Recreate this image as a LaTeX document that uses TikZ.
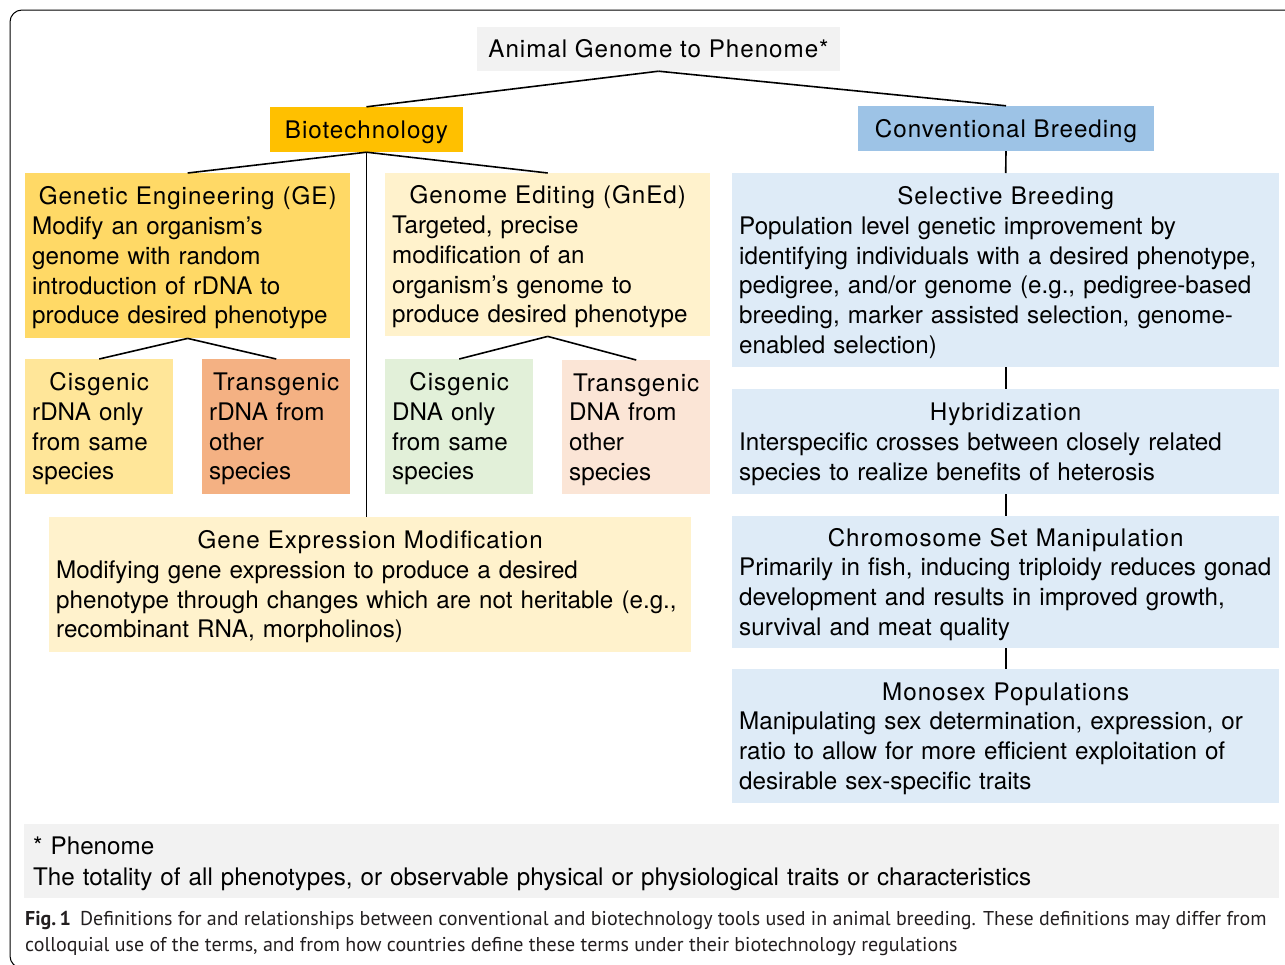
\documentclass[tikz,border=0pt]{standalone}
\usepackage{fontspec}
\setmainfont{TeX Gyre Heros}
\newfontfamily\capfont{PT Sans}
\usetikzlibrary{positioning}

\definecolor{greybox}{HTML}{F2F2F2}
\definecolor{biotech}{HTML}{FFC000}
\definecolor{convbr}{HTML}{9DC3E6}
\definecolor{gefill}{HTML}{FFD966}
\definecolor{palefill}{HTML}{FFF2CC}
\definecolor{cisrfill}{HTML}{FFE699}
\definecolor{transrfill}{HTML}{F4B183}
\definecolor{cisdfill}{HTML}{E2F0D9}
\definecolor{transdfill}{HTML}{FBE5D6}
\definecolor{bluefill}{HTML}{DEEBF7}
\definecolor{captext}{HTML}{231F20}

\newcommand\bodyfont{\fontsize{24.2}{29.75}\selectfont}
\newcommand\hd[1]{{\centering\rule{0pt}{22.5pt}\addfontfeature{LetterSpace=4}#1\par}}

\tikzset{
  box/.style={anchor=north west, inner xsep=7pt, inner ysep=0pt, align=left, font=\bodyfont},
  head/.style={inner sep=0pt, text height=17.4pt, text depth=0pt, font=\bodyfont\addfontfeature{LetterSpace=4}},
  link/.style={line width=1.6pt},
}

\begin{document}
\begin{tikzpicture}[x=1pt, y=-1pt]
\useasboundingbox (0,0) rectangle (1285,964);
\draw[line width=1pt, rounded corners=12pt] (10,10) rectangle (1300,968);

% top levels
\node[head, fill=greybox, minimum width=363pt, minimum height=44pt] (top) at (658.5,49) {Animal Genome to Phenome*};
\node[head, fill=biotech, minimum width=193pt, minimum height=45pt] (bio) at (366.5,129.5) {Biotechnology};
\node[head, fill=convbr, minimum width=296pt, minimum height=45pt] (conv) at (1006,128.5) {Conventional Breeding};

% biotechnology branch
\node[box, fill=gefill, text width=311pt, minimum height=165pt] (ge) at (25,173)
  {\hd{Genetic Engineering (GE)}Modify an organism's\\genome with random\\introduction of rDNA to\\produce desired phenotype};
\node[box, fill=palefill, text width=311pt, minimum height=163pt] (gned) at (385,173)
  {\hd{Genome Editing (GnEd)}Targeted, precise\\modification of an\\organism's genome to\\produce desired phenotype};
\node[box, fill=cisrfill, text width=134pt, minimum height=135pt] (cisr) at (25,359)
  {\hd{Cisgenic}rDNA only\\from same\\species};
\node[box, fill=transrfill, text width=134pt, minimum height=135pt] (transr) at (202,359)
  {\hd{Transgenic}rDNA from\\other\\species};
\node[box, fill=cisdfill, text width=134pt, minimum height=135pt] (cisd) at (385,359)
  {\hd{Cisgenic}DNA only\\from same\\species};
\node[box, fill=transdfill, text width=134pt, minimum height=134pt] (transd) at (562,360)
  {\hd{Transgenic}DNA from\\other\\species};
\node[box, fill=palefill, text width=628pt, minimum height=135pt] (gem) at (49,517)
  {\hd{Gene Expression Modification}Modifying gene expression to produce a desired\\phenotype through changes which are not heritable (e.g.,\\recombinant RNA, morpholinos)};

% conventional branch
\node[box, fill=bluefill, text width=533pt, minimum height=194pt] (sel) at (732,173)
  {\hd{Selective Breeding}Population level genetic improvement by\\identifying individuals with a desired phenotype,\\pedigree, and/or genome (e.g., pedigree-based\\breeding, marker assisted selection, genome-\\enabled selection)};
\node[box, fill=bluefill, text width=533pt, minimum height=105pt] (hyb) at (732,389)
  {\hd{Hybridization}Interspecific crosses between closely related\\species to realize benefits of heterosis};
\node[box, fill=bluefill, text width=533pt, minimum height=132pt] (chrom) at (732,516)
  {\hd{Chromosome Set Manipulation}Primarily in fish, inducing triploidy reduces gonad\\development and results in improved growth,\\survival and meat quality};
\node[box, fill=bluefill, text width=533pt, minimum height=134pt] (mono) at (732,669)
  {\hd{Monosex Populations}Manipulating sex determination, expression, or\\ratio to allow for more efficient exploitation of\\desirable sex-specific traits};

% footnote and caption
\node[box, fill=greybox, inner xsep=9pt, text width=1237pt, minimum height=74pt] (phen) at (24,824)
  {\rule{0pt}{22.5pt}* Phenome\\[1pt]The totality of all phenotypes, or observable physical or physiological traits or characteristics};
\node[anchor=north west, inner sep=0pt, align=left, text=captext, font=\capfont\fontsize{20}{26}\selectfont] (cap) at (25,911)
  {\textbf{Fig.\,1}\hspace{9pt}Definitions for and relationships between conventional and biotechnology tools used in animal breeding. These definitions may differ from\\colloquial use of the terms, and from how countries define these terms under their biotechnology regulations};

% connectors
\draw[link] (top.south) -- (bio.north);
\draw[link] (top.south) -- (conv.north);
\draw[link] (bio.south) -- (ge.north);
\draw[link] (bio.south) -- (gned.north);
\draw[link] (bio.south) -- (bio.south |- gem.north);
\draw[link] (ge.south) -- (cisr.north);
\draw[link] (ge.south) -- (transr.north);
\draw[link] (gned.south) -- (cisd.north);
\draw[link] (gned.south) -- (transd.north);
\draw[link] (conv.south) -- (sel.north);
\draw[link] (sel.south) -- (hyb.north);
\draw[link] (hyb.south) -- (chrom.north);
\draw[link] (chrom.south) -- (mono.north);
\end{tikzpicture}
\end{document}
